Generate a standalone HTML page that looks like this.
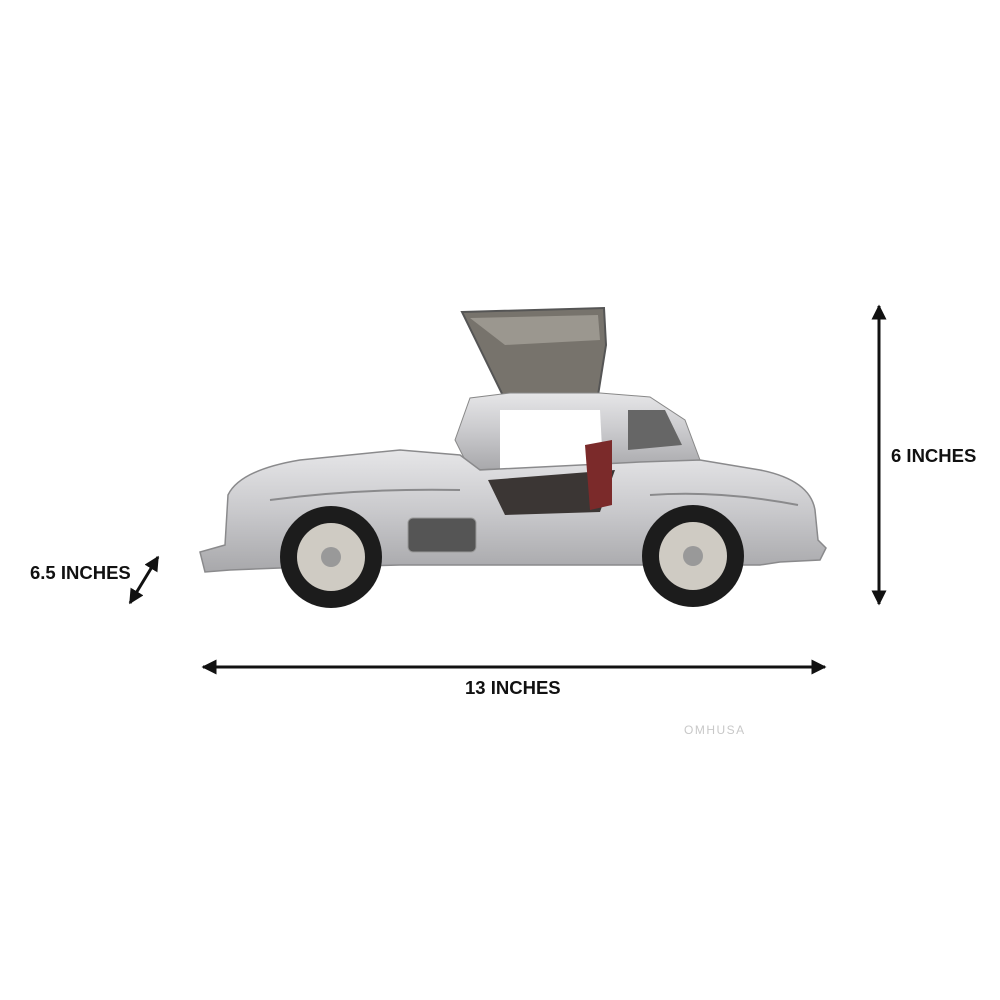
<!DOCTYPE html>
<html><head><style>
body{margin:0;background:#fff;width:1000px;height:1000px;overflow:hidden;font-family:"Liberation Sans",sans-serif}
.t{position:absolute;font-weight:bold;font-size:18.5px;color:#111}
</style></head><body>
<svg width="1000" height="1000" style="position:absolute;left:0;top:0">
<defs>
<linearGradient id="b" x1="0" y1="0" x2="0" y2="1"><stop offset="0" stop-color="#e6e6e8"/><stop offset="0.5" stop-color="#c9c9cc"/><stop offset="1" stop-color="#a8a8ab"/></linearGradient>
<marker id="a" viewBox="0 0 10 10" refX="9" refY="5" markerWidth="5" markerHeight="5" orient="auto-start-reverse"><path d="M0 0L10 5L0 10z" fill="#111"/></marker>
</defs>
<line x1="879" y1="306" x2="879" y2="604" stroke="#111" stroke-width="3" marker-start="url(#a)" marker-end="url(#a)"/>
<line x1="203" y1="667" x2="825" y2="667" stroke="#111" stroke-width="3" marker-start="url(#a)" marker-end="url(#a)"/>
<line x1="158" y1="557" x2="130" y2="603" stroke="#111" stroke-width="3" marker-start="url(#a)" marker-end="url(#a)"/>
<path d="M462 312 L604 308 L606 345 L596 408 L510 410 Z" fill="#77736c" stroke="#555" stroke-width="2"/>
<path d="M470 318 L598 315 L600 340 L505 345 Z" fill="#9b978f"/>
<path d="M455 440 L470 398 L510 393 L600 393 L650 397 L685 420 L700 460 L470 470 Z" fill="url(#b)" stroke="#888"/>
<path d="M500 410 L600 410 L605 505 L500 510 Z" fill="#fff"/>
<path d="M628 410 L665 410 L682 445 L628 450 Z" fill="#666"/>
<path d="M228 495 Q240 470 300 460 L400 450 L460 455 L480 470 L640 462 L700 460 L760 470 Q810 480 815 510 L818 540 L826 548 L820 560 L780 562 L760 565 L640 565 L400 565 L280 568 L230 570 L205 572 L200 552 L225 545 Z" fill="url(#b)" stroke="#8a8a8c" stroke-width="1.5"/>
<path d="M270 500 Q360 488 460 490" stroke="#8a8a8c" fill="none" stroke-width="2"/>
<path d="M650 495 Q720 490 798 505" stroke="#8a8a8c" fill="none" stroke-width="2"/>
<path d="M488 480 L505 515 L600 512 L615 470" fill="#3b3634"/>
<path d="M585 445 L612 440 L612 505 L590 510 Z" fill="#7b2a2a"/>
<rect x="408" y="518" width="68" height="34" rx="5" fill="#555" stroke="#999"/>
<circle cx="331" cy="557" r="51" fill="#1c1c1c"/><circle cx="331" cy="557" r="34" fill="#cfcbc3"/><circle cx="331" cy="557" r="10" fill="#999"/>
<circle cx="693" cy="556" r="51" fill="#1c1c1c"/><circle cx="693" cy="556" r="34" fill="#cfcbc3"/><circle cx="693" cy="556" r="10" fill="#999"/>
</svg>
<div class="t" style="left:891px;top:445px">6 INCHES</div>
<div class="t" style="left:30px;top:562px">6.5 INCHES</div>
<div class="t" style="left:465px;top:677px">13 INCHES</div>
<div style="position:absolute;left:684px;top:723px;font-size:12px;letter-spacing:1.5px;color:#c8c8c8">OMHUSA</div>
</body></html>
